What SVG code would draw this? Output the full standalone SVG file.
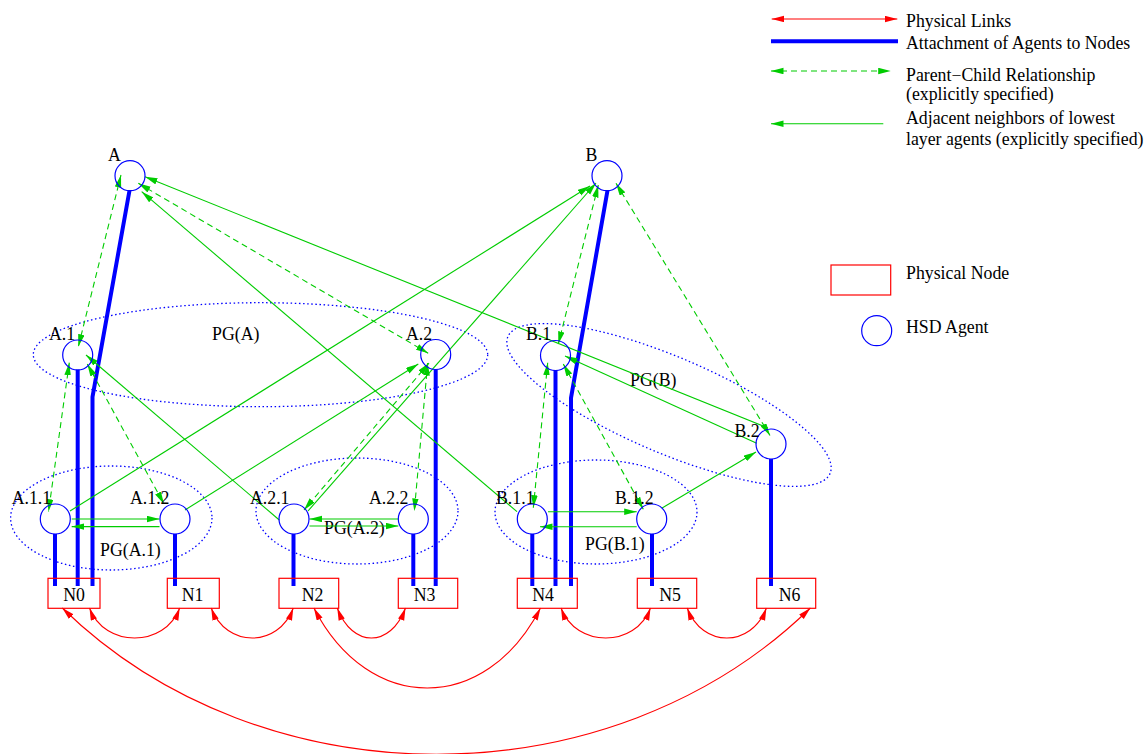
<svg xmlns="http://www.w3.org/2000/svg" width="1144" height="754" viewBox="0 0 1144 754">
<style>
text{font-family:"Liberation Serif","Times New Roman",serif;font-size:17.8px;fill:#000}
.ag{fill:#fff;stroke:#0000ff;stroke-width:1.2}
.pn{fill:#fff;stroke:#ff0000;stroke-width:1.2}
.pg{fill:none;stroke:#0000ff;stroke-width:1.3;stroke-dasharray:1.5 2.6}
.att{fill:none;stroke:#0000ff;stroke-width:4}
.nb{fill:none;stroke:#00cc00;stroke-width:1.1;marker-end:url(#ga)}
.pc{fill:none;stroke:#00cc00;stroke-width:1.1;stroke-dasharray:6 4;marker-start:url(#ga);marker-end:url(#ga)}
.pl{fill:none;stroke:#ff0000;stroke-width:1.1;marker-start:url(#ra);marker-end:url(#ra)}
</style>
<defs>
<marker id="ga" markerUnits="userSpaceOnUse" markerWidth="13" markerHeight="7" refX="12.5" refY="3.25" orient="auto-start-reverse"><path d="M0,0 L12.5,3.25 L0,6.5 Z" fill="#00cc00"/></marker>
<marker id="ra" markerUnits="userSpaceOnUse" markerWidth="13" markerHeight="7" refX="12.5" refY="3.25" orient="auto-start-reverse"><path d="M0,0 L12.5,3.25 L0,6.5 Z" fill="#ff0000"/></marker>
</defs>
<rect width="1144" height="754" fill="#fff"/>

<g id="legend">
<path class="pl" d="M771.7,19 L897.3,19"/>
<text x="906" y="26.7">Physical Links</text>
<path class="att" d="M771,41.3 L898,41.3"/>
<text x="906" y="48.6">Attachment of Agents to Nodes</text>
<path class="pc" d="M771,71 L890.7,71"/>
<text x="906" y="81">Parent−Child Relationship</text>
<text x="906" y="100.3">(explicitly specified)</text>
<path class="nb" d="M883.3,123.7 L771,123.7"/>
<text x="906" y="124.3">Adjacent neighbors of lowest</text>
<text x="906" y="144.8">layer agents (explicitly specified)</text>
<rect class="pn" x="831" y="265" width="59.7" height="30"/>
<text x="906" y="279.3">Physical Node</text>
<circle class="ag" cx="876.7" cy="330.7" r="15"/>
<text x="906" y="333.3">HSD Agent</text>
</g>

<g id="groups">
<ellipse class="pg" cx="260.5" cy="354.7" rx="227.2" ry="52"/>
<ellipse class="pg" cx="669" cy="405" rx="175" ry="48" transform="rotate(23 669 405)"/>
<ellipse class="pg" cx="111.3" cy="518" rx="100.7" ry="52"/>
<ellipse class="pg" cx="357" cy="511" rx="101" ry="53"/>
<ellipse class="pg" cx="596" cy="512" rx="101" ry="52"/>
<text x="212" y="340">PG(A)</text>
<text x="630" y="385.5">PG(B)</text>
<text x="100" y="556">PG(A.1)</text>
<text x="324" y="534">PG(A.2)</text>
<text x="585" y="550">PG(B.1)</text>
</g>

<g id="connectors">
<path class="pl" d="M89.5,608 C104.5,648 164.7,648 179.7,608"/>
<path class="pl" d="M211.2,608 C226.2,648 278.3,648 293.3,608"/>
<path class="pl" d="M337.3,608 C352.3,648 390.5,648 405.5,608"/>
<path class="pl" d="M313.9,608 C368.9,714.7 485.5,714.7 540.5,608"/>
<path class="pl" d="M561,608 C576,648 635.5,648 650.5,608"/>
<path class="pl" d="M687.2,608 C702.2,648 751.4,648 766.4,608"/>
<path class="pl" d="M62.3,608 C262.3,803 610.4,803 810.4,608"/>

<path class="att" d="M55,534 V586"/>
<path class="att" d="M77.7,369.5 V586"/>
<path class="att" d="M129.5,190.5 L92.5,397 V586"/>
<path class="att" d="M175,534 V586"/>
<path class="att" d="M293.5,534 V586"/>
<path class="att" d="M413.3,534 V586"/>
<path class="att" d="M435.7,369.5 V586"/>
<path class="att" d="M532.3,534 V586"/>
<path class="att" d="M555.5,370 V586"/>
<path class="att" d="M607.5,190.5 L571,398 V586"/>
<path class="att" d="M652,534 V586"/>
<path class="att" d="M771,459 V586"/>

<path class="nb" d="M71.7,519 L159.5,519"/>
<path class="nb" d="M159.5,526.6 L71.7,526.6"/>
<path class="nb" d="M398.3,519 L309.5,519"/>
<path class="nb" d="M309.5,526 L398.3,526"/>
<path class="nb" d="M548,511.7 L636.7,511.7"/>
<path class="nb" d="M636.7,526.7 L540,526.7"/>
<path class="nb" d="M185,510 L418.3,364"/>
<path class="nb" d="M279.3,520 L86,355"/>
<path class="nb" d="M70,511 L590,186"/>
<path class="nb" d="M308,511 L596,183"/>
<path class="nb" d="M517,511.7 L141.7,191.7"/>
<path class="nb" d="M768,428 L145,176.7"/>
<path class="nb" d="M756.7,443.3 L565,356"/>
<path class="nb" d="M661.7,508.3 L756,452"/>

<path class="pc" d="M121,175 L78.3,346.7"/>
<path class="pc" d="M138.3,183.3 L428.3,353.3"/>
<path class="pc" d="M69.3,362.7 L48.5,511.7"/>
<path class="pc" d="M87.3,364 L164,504"/>
<path class="pc" d="M429,363 L304,510"/>
<path class="pc" d="M427.7,363 L414.3,511"/>
<path class="pc" d="M598.3,185 L558.3,344"/>
<path class="pc" d="M616,183.3 L770,435.5"/>
<path class="pc" d="M547.7,362.7 L533.3,507.7"/>
<path class="pc" d="M563.3,364 L643.3,509.3"/>
</g>

<g id="A"><circle class="ag" cx="130" cy="175.7" r="15" fill-opacity="0"/><text x="108" y="161">A</text></g>
<g id="B"><circle class="ag" cx="607" cy="175.7" r="15" fill-opacity="0"/><text x="585.5" y="161">B</text></g>
<g id="A.1"><circle class="ag" cx="77.7" cy="355" r="15" fill-opacity="0"/><text x="49" y="339.5">A.1</text></g>
<g id="A.2"><circle class="ag" cx="435.7" cy="354.5" r="15" fill-opacity="0"/><text x="406" y="339.5">A.2</text></g>
<g id="B.1"><circle class="ag" cx="555.5" cy="355.5" r="15" fill-opacity="0"/><text x="526" y="340">B.1</text></g>
<g id="B.2"><circle class="ag" cx="771" cy="444" r="15" fill-opacity="0"/><text x="734.5" y="437">B.2</text></g>
<g id="A.1.1"><circle class="ag" cx="55.3" cy="519" r="15" fill-opacity="0"/><text x="11.7" y="504">A.1.1</text></g>
<g id="A.1.2"><circle class="ag" cx="175" cy="519" r="15" fill-opacity="0"/><text x="130" y="504">A.1.2</text></g>
<g id="A.2.1"><circle class="ag" cx="294" cy="519" r="15" fill-opacity="0"/><text x="250" y="504">A.2.1</text></g>
<g id="A.2.2"><circle class="ag" cx="413.3" cy="519" r="15" fill-opacity="0"/><text x="369" y="504">A.2.2</text></g>
<g id="B.1.1"><circle class="ag" cx="532.3" cy="519" r="15" fill-opacity="0"/><text x="496" y="504">B.1.1</text></g>
<g id="B.1.2"><circle class="ag" cx="651.7" cy="519" r="15" fill-opacity="0"/><text x="615" y="504">B.1.2</text></g>

<g id="N0"><rect class="pn" x="48" y="578.3" width="52" height="30" fill-opacity="0"/><text x="74" y="601" text-anchor="middle">N0</text></g>
<g id="N1"><rect class="pn" x="167.3" y="578.3" width="52" height="30" fill-opacity="0"/><text x="192.5" y="601" text-anchor="middle">N1</text></g>
<g id="N2"><rect class="pn" x="279" y="578.3" width="59.7" height="30" fill-opacity="0"/><text x="312.5" y="601" text-anchor="middle">N2</text></g>
<g id="N3"><rect class="pn" x="398.3" y="578.3" width="59.4" height="30" fill-opacity="0"/><text x="424.5" y="601" text-anchor="middle">N3</text></g>
<g id="N4"><rect class="pn" x="517.3" y="578.3" width="60" height="30" fill-opacity="0"/><text x="543" y="601" text-anchor="middle">N4</text></g>
<g id="N5"><rect class="pn" x="637.3" y="578.3" width="59.4" height="30" fill-opacity="0"/><text x="670" y="601" text-anchor="middle">N5</text></g>
<g id="N6"><rect class="pn" x="756.7" y="578.3" width="59" height="30" fill-opacity="0"/><text x="789.5" y="601" text-anchor="middle">N6</text></g>
</svg>
